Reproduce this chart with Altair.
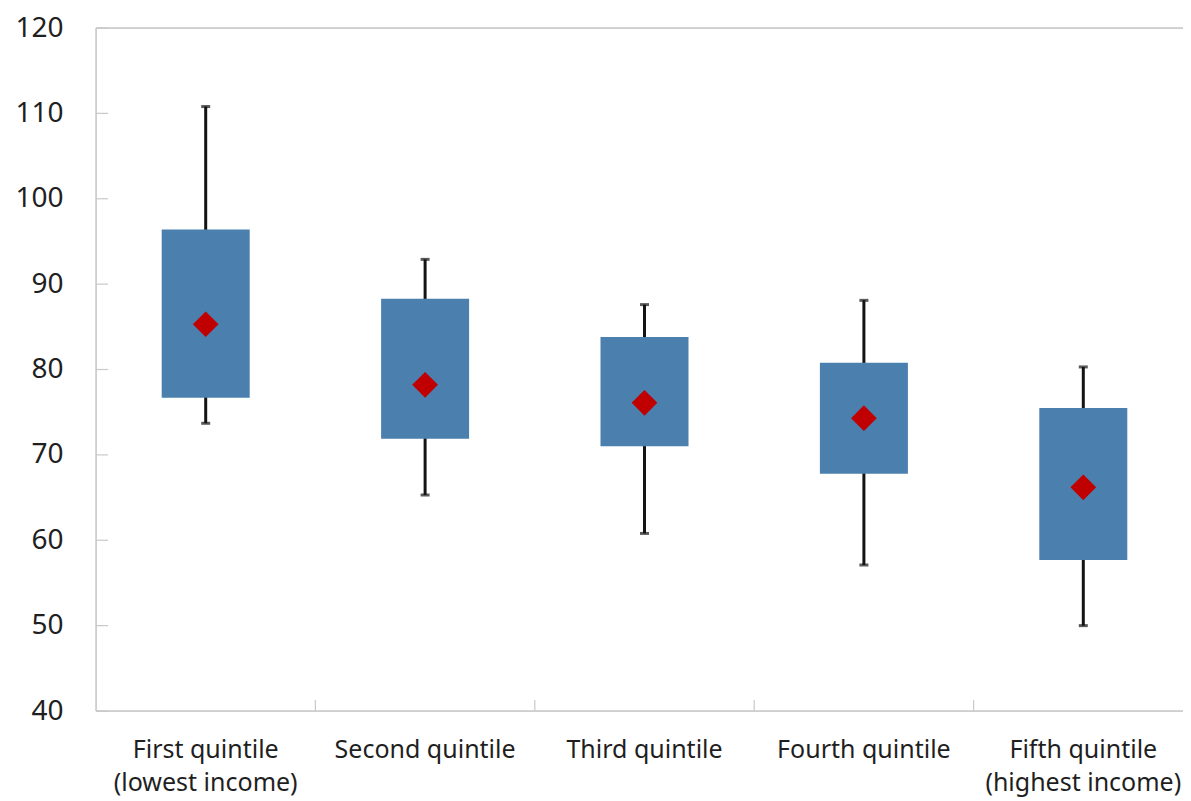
import altair as alt
import pandas as pd

categories = ["First quintile\n(lowest income)", "Second quintile", "Third quintile",
              "Fourth quintile", "Fifth quintile\n(highest income)"]
whisker_low = [73.7, 65.3, 60.8, 57.1, 50.0]
box_low = [76.7, 71.9, 71.0, 67.8, 57.7]
box_high = [96.4, 88.3, 83.8, 80.8, 75.5]
whisker_high = [110.8, 92.9, 87.6, 88.1, 80.3]
mean_vals = [85.3, 78.2, 76.1, 74.3, 66.2]
y_ticks = [40, 50, 60, 70, 80, 90, 100, 110, 120]

df = pd.DataFrame({
    "cat": categories,
    "wlo": whisker_low,
    "blo": box_low,
    "bhi": box_high,
    "whi": whisker_high,
    "mean": mean_vals,
})
ticks_df = pd.DataFrame({"v": y_ticks})
bounds_df = pd.DataFrame({"cat": categories[1:]})
top_df = pd.DataFrame({"v": [120]})

W, H = 1087, 683
FONT = "Segoe UI, Noto Sans, Open Sans, sans-serif"
GRAY = "#c9c9c9"

xscale = alt.Scale(domain=categories, paddingInner=0, paddingOuter=0, range=[0, 1097])
yscale = alt.Scale(domain=[40, 120], nice=False, zero=False)

x_axis = alt.Axis(
    title=None, domain=False, ticks=False, tickSize=0, grid=False,
    labelAngle=0, labelAlign="center", labelLimit=0, labelFont=FONT, labelFontSize=25,
    labelColor="#1f1f1f", labelPadding=38, labelLineHeight=33,
    labelExpr="split(datum.label, '\\n')",
)
y_axis = alt.Axis(
    title=None, values=y_ticks, domain=False, ticks=False, tickSize=0, grid=False,
    labelFont=FONT, labelFontSize=28, labelColor="#1f1f1f", labelPadding=33,
)

base = alt.Chart(df)

whisk = base.mark_rule(color="#141414", strokeWidth=3).encode(
    x=alt.X("cat:N", scale=xscale, axis=x_axis, sort=categories),
    y=alt.Y("wlo:Q", scale=yscale, axis=y_axis),
    y2="whi:Q",
)
cap_lo = base.mark_tick(color="#141414", size=9, thickness=3, orient="horizontal").encode(
    x=alt.X("cat:N", scale=xscale, sort=categories), y=alt.Y("wlo:Q", scale=yscale))
cap_hi = base.mark_tick(color="#141414", size=9, thickness=3, orient="horizontal").encode(
    x=alt.X("cat:N", scale=xscale, sort=categories), y=alt.Y("whi:Q", scale=yscale))
box = base.mark_bar(color="#4a7fae", size=88).encode(
    x=alt.X("cat:N", scale=xscale, sort=categories),
    y=alt.Y("blo:Q", scale=yscale), y2="bhi:Q",
)
mean = base.mark_point(shape="diamond", filled=True, color="#c00000", size=660, opacity=1).encode(
    x=alt.X("cat:N", scale=xscale, sort=categories), y=alt.Y("mean:Q", scale=yscale))

y_axis_line = alt.Chart(top_df).mark_rule(color=GRAY, strokeWidth=1.5).encode(
    x=alt.value(0), y=alt.value(0), y2=alt.value(H))
x_axis_line = alt.Chart(top_df).mark_rule(color=GRAY, strokeWidth=1.5).encode(
    x=alt.value(0), x2=alt.value(W + 10), y=alt.value(H))
top_line = alt.Chart(top_df).mark_rule(color=GRAY, strokeWidth=1.5).encode(
    x=alt.value(0), x2=alt.value(W + 10), y=alt.Y("v:Q", scale=yscale))
y_tick_marks = alt.Chart(ticks_df).mark_rule(color=GRAY, strokeWidth=1.2).encode(
    x=alt.value(0), x2=alt.value(12), y=alt.Y("v:Q", scale=yscale))
x_tick_marks = alt.Chart(bounds_df).mark_rule(color=GRAY, strokeWidth=1.2).encode(
    x=alt.X("cat:N", scale=xscale, bandPosition=0, sort=categories),
    y=alt.value(H - 11), y2=alt.value(H))

chart = alt.layer(
    top_line, y_tick_marks, x_tick_marks, whisk, cap_lo, cap_hi, box, mean,
    y_axis_line, x_axis_line,
).properties(
    width=W, height=H,
    autosize=alt.AutoSizeParams(type="none"),
    padding={"left": 88, "top": 20, "right": 0, "bottom": 90},
).configure_view(stroke=None).configure(background="white")

chart.save("out.html", embed_options={"renderer": "svg", "actions": False})
